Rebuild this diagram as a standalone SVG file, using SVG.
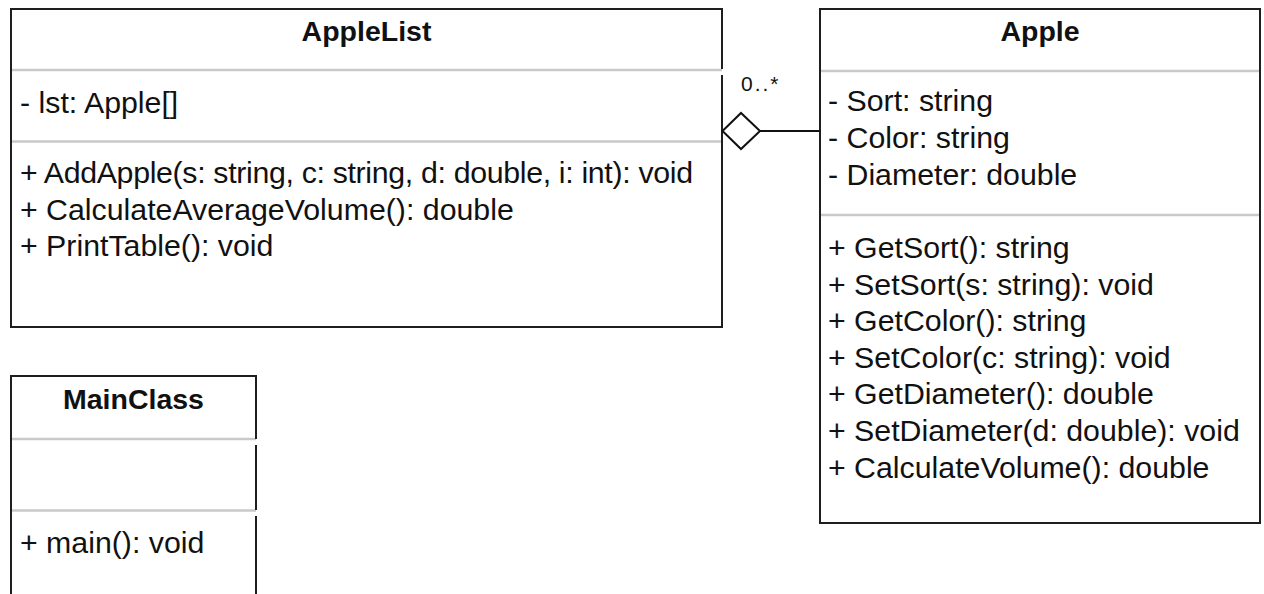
<svg xmlns="http://www.w3.org/2000/svg" width="1264" height="594" viewBox="0 0 1264 594">
<style>
.bg{fill:#ffffff}
.box{fill:#ffffff;stroke:none}
.border{fill:none;stroke:#1e1e1e;stroke-width:2}
.sep{stroke:#c9c9c9;stroke-width:2.5}
.title{font-family:"Liberation Sans",Arial,sans-serif;font-weight:bold;font-size:28.5px;fill:#111;text-anchor:middle}
.t{font-family:"Liberation Sans",Arial,sans-serif;font-size:30.3px;fill:#111}
.lbl{font-family:"Liberation Sans",Arial,sans-serif;font-size:21px;letter-spacing:2px;fill:#111}
.conn{fill:none;stroke:#111;stroke-width:2}
</style>
<rect class="bg" x="0" y="0" width="1264" height="594"/>

<g id="AppleList">
  <rect class="box" x="11" y="9" width="711" height="318"/>
  <line class="sep" x1="10" y1="70" x2="722" y2="70"/>
  <line class="sep" x1="10" y1="141.5" x2="722" y2="141.5"/>
  <path class="border" d="M11 70 V9 H722 V69 M722 75 V327 H11 V70"/>
  <text class="title" x="366.5" y="41">AppleList</text>
  <text class="t" x="20" y="113">- lst: Apple[]</text>
  <text class="t" x="20" y="183" textLength="673" lengthAdjust="spacing">+ AddApple(s: string, c: string, d: double, i: int): void</text>
  <text class="t" x="20" y="219.5">+ CalculateAverageVolume(): double</text>
  <text class="t" x="20" y="256">+ PrintTable(): void</text>
</g>

<g id="Apple">
  <rect class="box" x="820" y="9" width="440" height="514"/>
  <line class="sep" x1="819" y1="71" x2="1260" y2="71"/>
  <line class="sep" x1="819" y1="215" x2="1260" y2="215"/>
  <path class="border" d="M820 9 H1260 V523 H820 Z"/>
  <text class="title" x="1040" y="41">Apple</text>
  <text class="t" x="828" y="111">- Sort: string</text>
  <text class="t" x="828" y="148">- Color: string</text>
  <text class="t" x="828" y="185">- Diameter: double</text>
  <text class="t" x="828" y="258">+ GetSort(): string</text>
  <text class="t" x="828" y="294.5">+ SetSort(s: string): void</text>
  <text class="t" x="828" y="331">+ GetColor(): string</text>
  <text class="t" x="828" y="367.5">+ SetColor(c: string): void</text>
  <text class="t" x="828" y="404">+ GetDiameter(): double</text>
  <text class="t" x="828" y="441">+ SetDiameter(d: double): void</text>
  <text class="t" x="828" y="478">+ CalculateVolume(): double</text>
</g>

<g id="MainClass">
  <rect class="box" x="11" y="376" width="245" height="230"/>
  <line class="sep" x1="10" y1="439" x2="256" y2="439"/>
  <line class="sep" x1="10" y1="510.5" x2="256" y2="510.5"/>
  <path class="border" d="M11 600 V376 H256 V439 M256 445 V510 M256 516 V600"/>
  <text class="title" x="133.5" y="409">MainClass</text>
  <text class="t" x="20" y="553">+ main(): void</text>
</g>

<g id="connectors">
  <line class="conn" x1="760" y1="131" x2="820" y2="131"/>
  <polygon class="conn" style="fill:#ffffff" points="722.5,131 741,113 760,131 741,149"/>
  <text class="lbl" x="741" y="91">0..*</text>
</g>
</svg>
